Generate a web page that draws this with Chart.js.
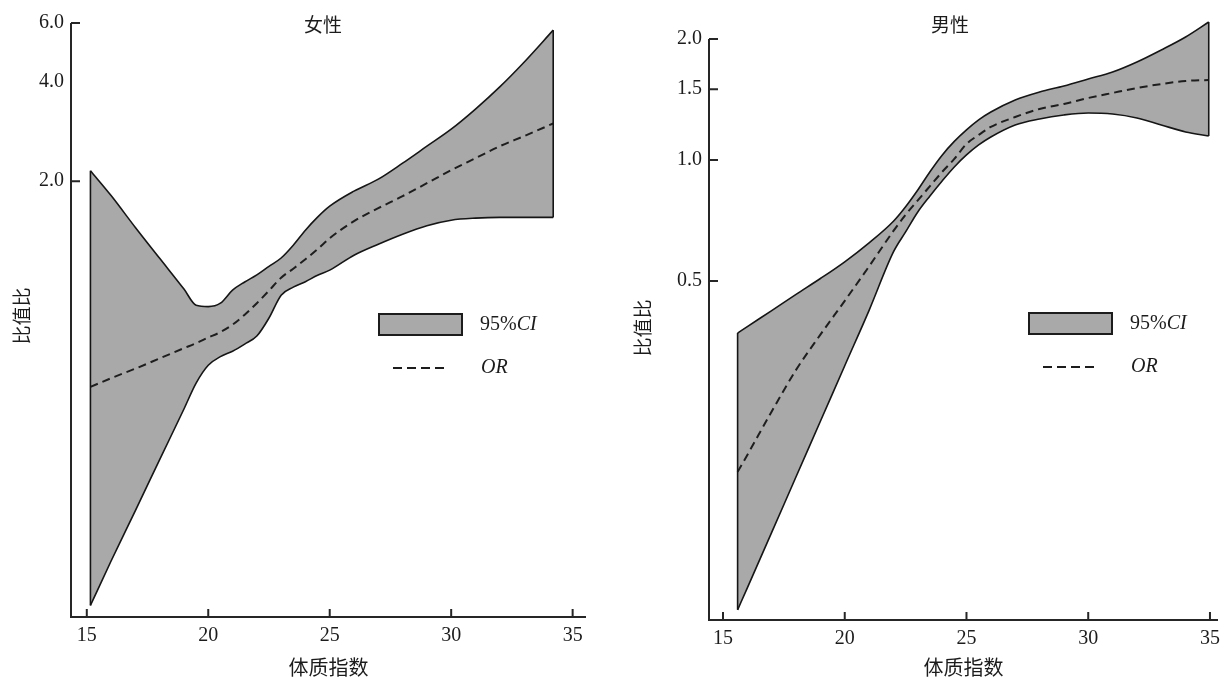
<!DOCTYPE html>
<html>
<head>
<meta charset="utf-8">
<script src="https://cdn.jsdelivr.net/npm/chart.js@4.4.1/dist/chart.umd.min.js"></script>
<style>
  html, body { margin: 0; padding: 0; background: #fff; }
  #wrap { position: relative; width: 1220px; height: 680px; overflow: hidden; }
  .panel { position: absolute; top: 0; width: 610px; height: 680px; }
</style>
</head>
<body>
<div id="wrap">
  <div class="panel" style="left:0"><canvas id="female" width="610" height="680"></canvas></div>
  <div class="panel" style="left:610px"><canvas id="male" width="610" height="680"></canvas></div>
</div>
<script>
// values (OR and 95%CI by BMI)
const xTicks = [15, 20, 25, 30, 35];

const femaleBmi = [15.15, 16, 17, 18, 19, 19.5, 20, 20.5, 21, 21.5, 22, 22.5, 23, 23.5, 24, 24.5, 25, 26, 27, 28, 29, 30, 31, 32, 33, 34.2];
const femaleOr = [0.479, 0.509, 0.544, 0.584, 0.627, 0.649, 0.675, 0.701, 0.738, 0.791, 0.857, 0.935, 1.023, 1.089, 1.163, 1.247, 1.346, 1.515, 1.658, 1.802, 1.972, 2.159, 2.346, 2.55, 2.734, 2.986];
const femaleLower = [0.105, 0.143, 0.203, 0.289, 0.411, 0.492, 0.557, 0.591, 0.614, 0.645, 0.682, 0.773, 0.906, 0.958, 0.995, 1.041, 1.078, 1.196, 1.291, 1.384, 1.468, 1.525, 1.547, 1.555, 1.555, 1.555];
const femaleUpper = [2.15, 1.81, 1.45, 1.17, 0.945, 0.845, 0.837, 0.857, 0.938, 0.993, 1.043, 1.107, 1.173, 1.282, 1.423, 1.558, 1.681, 1.866, 2.028, 2.266, 2.55, 2.87, 3.30, 3.85, 4.57, 5.71];
const femaleYTicks = [2.0, 4.0, 6.0];
const femaleYMarks = [2.0, 6.0];

const maleBmi = [15.6, 16, 17, 18, 19, 20, 21, 22, 22.5, 23, 23.5, 24, 24.5, 25, 25.5, 26, 27, 28, 29, 30, 31, 32, 33, 34, 34.95];
const maleOr = [0.1675, 0.1846, 0.2368, 0.3004, 0.3677, 0.4462, 0.5437, 0.6659, 0.7306, 0.7934, 0.8607, 0.9336, 1.0057, 1.096, 1.154, 1.208, 1.279, 1.339, 1.378, 1.426, 1.468, 1.51, 1.545, 1.572, 1.581];
const maleLower = [0.076, 0.0862, 0.1184, 0.1629, 0.2238, 0.3077, 0.4226, 0.5904, 0.6621, 0.7425, 0.8138, 0.8867, 0.9607, 1.029, 1.0897, 1.1408, 1.222, 1.265, 1.294, 1.309, 1.301, 1.272, 1.222, 1.174, 1.147];
const maleUpper = [0.371, 0.385, 0.422, 0.463, 0.507, 0.558, 0.622, 0.704, 0.765, 0.842, 0.935, 1.028, 1.112, 1.188, 1.258, 1.316, 1.41, 1.476, 1.528, 1.59, 1.655, 1.753, 1.878, 2.023, 2.204];
const maleYTicks = [0.5, 1.0, 1.5, 2.0];
const maleYMarks = [0.5, 1.0, 1.5, 2.0];

const ink = '#1c1c1c';
const bandGrey = '#a9a9a9';
const serif = '"Liberation Serif", "Times New Roman", serif';
const cjk = '"Noto Sans CJK SC", sans-serif';

function pts(xs, ys) {
  return xs.map((x, i) => ({ x, y: ys[i] }));
}

function edge(xs, lower, upper, i) {
  return [{ x: xs[i], y: lower[i] }, { x: xs[i], y: upper[i] }];
}

const decor = {
  id: 'decor',
  afterDraw(chart, args, o) {
    const { ctx, chartArea: a, scales: { x, y } } = chart;
    ctx.save();
    ctx.strokeStyle = '#262626';
    ctx.lineWidth = 2;
    ctx.beginPath();
    ctx.moveTo(a.left, y.getPixelForValue(o.axisTop));
    ctx.lineTo(a.left, a.bottom);
    ctx.lineTo(a.right, a.bottom);
    xTicks.forEach((v) => {
      const px = x.getPixelForValue(v);
      ctx.moveTo(px, a.bottom);
      ctx.lineTo(px, a.bottom - 8);
    });
    o.marks.forEach((v) => {
      const py = y.getPixelForValue(v);
      ctx.moveTo(a.left, py);
      ctx.lineTo(a.left + 9, py);
    });
    ctx.stroke();

    // titles
    ctx.fillStyle = ink;
    ctx.textAlign = 'center';
    ctx.textBaseline = 'middle';
    ctx.font = '19px ' + cjk;
    ctx.fillText(o.title, o.titleX, 25);
    ctx.font = '20px ' + cjk;
    ctx.fillText('体质指数', (a.left + a.right) / 2, 667);
    ctx.save();
    ctx.translate(o.yTitleX, o.yTitleY);
    ctx.rotate(-Math.PI / 2);
    ctx.font = '19px ' + cjk;
    ctx.fillText('比值比', 0, 0);
    ctx.restore();

    // legend
    const L = o.legend;
    ctx.fillStyle = bandGrey;
    ctx.fillRect(L.x, L.y, 83, 21);
    ctx.lineWidth = 2;
    ctx.strokeStyle = ink;
    ctx.strokeRect(L.x, L.y, 83, 21);
    ctx.beginPath();
    ctx.setLineDash([9, 5]);
    ctx.lineWidth = 2;
    ctx.moveTo(L.x + 14, L.y + 54);
    ctx.lineTo(L.x + 68, L.y + 54);
    ctx.stroke();
    ctx.setLineDash([]);
    ctx.fillStyle = ink;
    ctx.textAlign = 'left';
    ctx.font = '20px ' + serif;
    ctx.fillText('95%', L.x + 101, L.y + 11);
    const w = ctx.measureText('95%').width;
    ctx.font = 'italic 20px ' + serif;
    ctx.fillText('CI', L.x + 101 + w, L.y + 11);
    ctx.fillText('OR', L.x + 102, L.y + 54);
    ctx.restore();
  }
};

function makePanel(id, p) {
  const last = p.bmi.length - 1;
  const line = {
    borderColor: '#151515',
    borderWidth: 1.6,
    pointRadius: 0,
    fill: false,
    cubicInterpolationMode: 'monotone'
  };
  const straight = { ...line, cubicInterpolationMode: 'default', tension: 0 };

  return new Chart(document.getElementById(id), {
    type: 'line',
    data: {
      datasets: [
        { ...line, label: 'lower', data: pts(p.bmi, p.lower) },
        { ...line, label: '95%CI', data: pts(p.bmi, p.upper), fill: '-1', backgroundColor: bandGrey },
        { ...straight, label: 'start', data: edge(p.bmi, p.lower, p.upper, 0) },
        { ...straight, label: 'end', data: edge(p.bmi, p.lower, p.upper, last) },
        { ...line, label: 'OR', data: pts(p.bmi, p.or), borderDash: [8, 5], borderWidth: 2, borderColor: '#1e1e1e' }
      ]
    },
    options: {
      responsive: false,
      animation: false,
      devicePixelRatio: 1,
      layout: { padding: { left: 0, top: p.top, right: 610 - p.right, bottom: 0 } },
      plugins: {
        legend: { display: false },
        tooltip: { enabled: false },
        filler: { drawTime: 'beforeDatasetsDraw' },
        decor: p.decor
      },
      scales: {
        x: {
          type: 'linear',
          min: p.xMin,
          max: p.xMax,
          grid: { display: false, drawTicks: false },
          border: { display: false },
          ticks: { padding: 7, maxRotation: 0, color: ink, font: { family: serif, size: 20 } },
          afterBuildTicks: (s) => { s.ticks = xTicks.map((v) => ({ value: v })); },
          afterFit: (s) => { s.height = 680 - p.bottom; s.paddingLeft = 0; s.paddingRight = 0; }
        },
        y: {
          type: 'logarithmic',
          min: p.yMin,
          max: p.yMax,
          grid: { display: false, drawTicks: false },
          border: { display: false },
          ticks: {
            padding: 7,
            color: ink,
            font: { family: serif, size: 20 },
            callback: (v) => Number(v).toFixed(1)
          },
          afterBuildTicks: (s) => { s.ticks = p.yTicks.map((v) => ({ value: v })); },
          afterFit: (s) => { s.width = p.left; s.paddingTop = 0; s.paddingBottom = 0; }
        }
      }
    },
    plugins: [decor]
  });
}

makePanel('female', {
  bmi: femaleBmi, or: femaleOr, lower: femaleLower, upper: femaleUpper,
  yTicks: femaleYTicks,
  xMin: 14.35, xMax: 35.55, yMin: 0.0969, yMax: 6.0,
  left: 71, right: 586, top: 23, bottom: 617,
  decor: {
    axisTop: 6.0, marks: femaleYMarks, title: '女性', titleX: 323,
    yTitleX: 22, yTitleY: 316, legend: { x: 379, y: 314 }
  }
});

makePanel('male', {
  bmi: maleBmi, or: maleOr, lower: maleLower, upper: maleUpper,
  yTicks: maleYTicks,
  xMin: 14.425, xMax: 35.33, yMin: 0.0717, yMax: 2.255,
  left: 99, right: 608, top: 18, bottom: 620,
  decor: {
    axisTop: 2.0, marks: maleYMarks, title: '男性', titleX: 340,
    yTitleX: 33, yTitleY: 328, legend: { x: 419, y: 313 }
  }
});
</script>
</body>
</html>
